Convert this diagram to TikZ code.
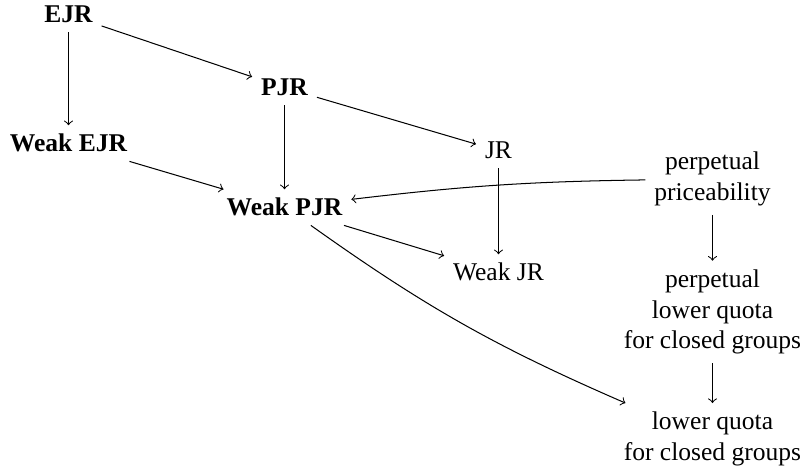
\documentclass[tikz,border=0pt]{standalone}
\usepackage{fontspec}
\setmainfont{Liberation Serif}
\begin{document}
\begin{tikzpicture}[x=0.01377cm, y=-0.01377cm,
    strong/.style={font=\bfseries, anchor=base},
    plain/.style={anchor=base},
    prop/.style={align=center}]
	\useasboundingbox (0,0) rectangle (803,468);

	\node [strong] (ejr) at (68.5,23) {EJR};
	\node [strong] (pjr) at (284.5,96) {PJR};
	\node [strong] (wejr) at (68.5,152) {Weak EJR};
	\node [strong] (wpjr) at (284.5,216) {Weak PJR};
	\node [plain] (jr) at (498.5,159) {JR};
	\node [plain] (wjr) at (498.5,281) {Weak JR};
	\node [prop] (pp) at (712.5,179) {perpetual\\priceability};
	\node [prop] (plq) at (712.5,312) {perpetual\\lower quota\\for closed groups};
	\node [prop] (lq) at (712.5,439) {lower quota\\for closed groups};

	\draw [->] (ejr) -- (pjr);
	\draw [->] (ejr) -- (wejr);
	\draw [->] (pjr) -- (wpjr);
	\draw [->] (pjr) -- (jr);
	\draw [->] (wejr) -- (wpjr);
	\draw [->] (jr) -- (wjr);
	\draw [->] (wpjr) -- (wjr);
	\draw [->] (pp) to [bend right=3] (wpjr);
	\draw [->] (wpjr) to [bend right=6] (lq);
	\draw [->] (pp) -- (plq);
	\draw [->] (plq) -- (lq);
\end{tikzpicture}
\end{document}
